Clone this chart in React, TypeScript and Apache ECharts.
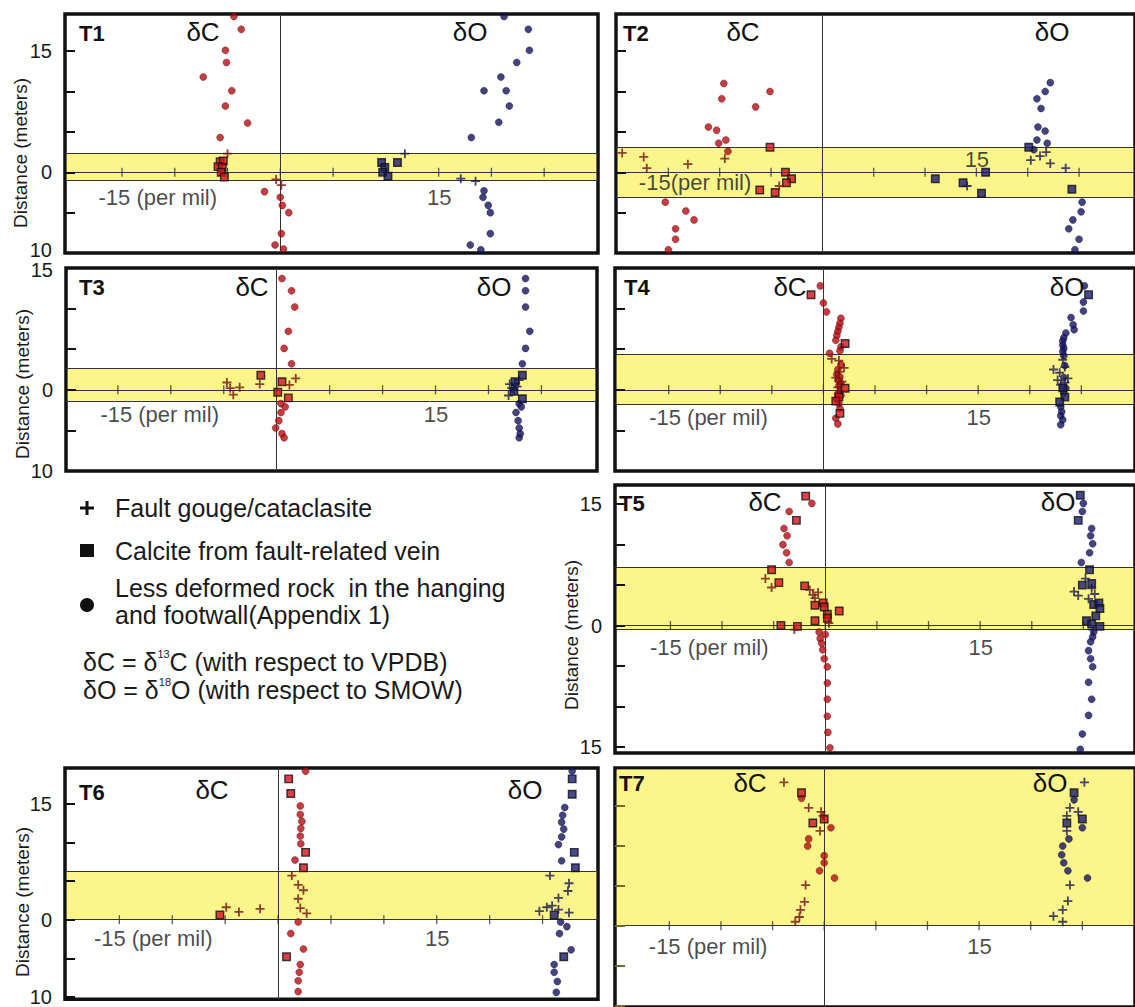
import React, { useEffect, useRef } from "react";
import * as echarts from "echarts";

// ---------- tick values ----------
const xTickValues = [-15, -10, -5, 0, 5, 10, 15, 20, 25];
const yTicksA = [15, 10, 5, 0, -5, -10];
const yTicksT3 = [10, 5, 0, -5];
const yTicksT5 = [15, 10, 5, 0, -5, -10, -15];
const yLabelsT1 = [15, 0, -9.6];
const yLabelsT3 = [14.75, 0, -10];
const yLabelsT6 = [15, 0, -10];
const yLabelsT5 = [15, 0, -15];

// ---------- bands (fault zone, metres) ----------
const t1Band = [-1.0, 2.3];
const t2Band = [-3.1, 3.1];
const t3Band = [-1.35, 2.7];
const t4Band = [-1.8, 4.4];
const t5Band = [-0.5, 7.2];
const t6Band = [0, 6.2];
const t7Band = [0, 19.8];

// ---------- T1 ----------
const t1CRock = [[-4.4, 19.3], [-3.7, 17.7], [-5.2, 15.1], [-5.1, 13.6], [-7.3, 11.8], [-4.6, 10.1], [-5.2, 8.2], [-3.1, 6.1], [-5.7, 4.3], [-1.5, -2.4], [0, -3.1], [0.2, -4.1], [0.8, -5.0], [0.1, -7.6], [-0.5, -9.0], [0.3, -9.5]];
const t1CVein = [[-5.7, 1.3], [-5.4, 1.4], [-5.9, 0.7], [-5.5, 0.6], [-5.6, 0.0], [-5.3, -0.6]];
const t1CGouge = [[-5.0, 2.3], [-0.4, -0.9], [0.1, -1.6]];
const t1ORock = [[21.2, 19.3], [23.5, 17.7], [23.6, 15.1], [22.4, 13.6], [20.9, 11.8], [19.3, 10.1], [21.4, 10.1], [21.7, 8.2], [20.7, 6.2], [18.1, 4.3], [19.3, -2.3], [19.2, -3.1], [19.7, -4.1], [19.9, -5.0], [19.9, -7.6], [18.0, -9.0], [19.0, -9.6]];
const t1OVein = [[9.6, 1.2], [11.1, 1.2], [9.9, 0.6], [9.7, 0.0], [10.2, -0.5]];
const t1OGouge = [[11.8, 2.3], [17.1, -0.8], [18.5, -1.1]];

// ---------- T2 ----------
const t2CRock = [[-9.6, 11.0], [-9.8, 9.1], [-6.5, 8.1], [-11.1, 5.6], [-10.3, 5.2], [-9.4, 4.0], [-10.1, 3.6], [-9.2, 2.6], [-5.1, 10.0], [-15.3, -3.7], [-13.3, -4.8], [-12.5, -5.9], [-14.3, -7.0], [-14.3, -8.3], [-15.0, -9.6]];
const t2CVein = [[-5.1, 3.1], [-3.6, 0.0], [-3.0, -0.8], [-3.5, -1.3], [-6.1, -2.2], [-4.6, -2.5]];
const t2CGouge = [[-19.5, 2.4], [-17.4, 1.9], [-17.1, 0.5], [-13.1, 1.0], [-9.5, 1.7], [-4.2, -1.7]];
const t2ORock = [[22.2, 11.1], [21.7, 10.0], [20.9, 9.1], [21.3, 7.9], [21.0, 5.6], [21.7, 5.1], [20.9, 4.0], [21.9, 3.6], [20.6, 2.8], [25.3, -3.7], [25.2, -4.9], [24.4, -5.9], [24.0, -7.0], [25.0, -8.3], [24.6, -9.6]];
const t2OVein = [[20.1, 3.1], [15.9, 0.0], [11.0, -0.8], [13.7, -1.3], [15.5, -2.6], [24.3, -2.1]];
const t2OGouge = [[20.3, 1.5], [21.2, 2.0], [21.8, 2.5], [22.2, 1.1], [23.7, 0.5], [14.1, -1.7]];

// ---------- T3 ----------
const t3CRock = [[0.5, 13.7], [1.4, 12.2], [1.7, 10.2], [1.1, 7.2], [0.7, 5.1], [1.4, 3.2], [0.4, -1.7], [0.8, -2.1], [0.4, -2.8], [0.2, -3.8], [-0.1, -4.7], [0.5, -5.4], [0.7, -5.9]];
const t3CVein = [[-1.5, 1.8], [0.5, 1.0], [0.1, -0.3], [1.1, -1.0]];
const t3CGouge = [[-4.7, 0.9], [-4.4, 0.2], [-3.5, 0.3], [-4.1, -0.6], [-1.6, 0.7], [1.2, 0.6], [1.8, 1.4]];
const t3ORock = [[23.5, 13.7], [23.5, 12.2], [23.5, 10.2], [23.9, 7.2], [23.5, 5.1], [23.2, 3.2], [22.9, -1.7], [23.1, -2.1], [22.6, -2.8], [22.8, -3.8], [22.9, -4.7], [23.0, -5.4], [22.9, -5.9]];
const t3OVein = [[23.2, 1.8], [22.5, 1.0], [22.4, -0.2], [23.2, -1.1]];
const t3OGouge = [[22.0, 0.7], [22.2, 0.2], [22.7, 0.4], [21.9, -0.7], [22.4, 0.0], [22.5, 0.8], [22.9, 1.2]];

// ---------- T4 ----------
const t4CRock = [[-0.3, 12.8], [0, 10.7], [0.3, 9.6], [1.7, 8.8], [1.6, 8.2], [1.5, 7.7], [1.4, 7.2], [1.3, 6.7], [1.2, 6.1], [1.7, 5.3], [1.6, 4.8], [0.6, 4.5], [1.7, 3.1], [1.4, 2.5], [1.3, 1.9], [1.6, 1.6], [1.4, 1.2], [1.7, 0.8], [1.5, 0.5], [1.6, -0.2], [1.4, -0.5], [1.7, -0.7], [1.3, -1.1], [1.5, -1.7], [1.6, -2.3], [1.2, -3.5], [1.4, -4.2]];
const t4CVein = [[-1.2, 11.7], [2.1, 5.7], [2.1, 0.2], [1.5, -0.9], [1.2, -1.4], [1.6, -2.9]];
const t4CGouge = [[0.8, 3.8], [1.5, 3.6], [2.0, 2.7], [1.5, 2.2], [1.2, 1.5], [1.8, 1.0], [1.4, 0.3]];
const t4ORock = [[25.3, 12.8], [25.2, 10.8], [25.2, 9.7], [24.0, 8.9], [24.2, 8.0], [24.3, 7.4], [23.5, 7.0], [23.3, 6.4], [23.2, 6.0], [23.2, 5.5], [23.3, 5.1], [23.2, 4.7], [23.3, 4.2], [23.4, 3.0], [23.3, 1.5], [23.5, 0.2], [23.3, -0.4], [23.0, -2.1], [23.1, -2.7], [23.0, -3.2], [23.2, -3.7], [23.0, -4.3]];
const t4OVein = [[25.7, 11.7], [23.4, -0.9], [22.9, -1.5], [23.2, 0.25]];
const t4OGouge = [[23.2, 3.7], [23.4, 2.8], [22.3, 2.5], [22.9, 2.1], [23.7, 1.4], [22.7, 1.2], [23.0, 0.6], [23.4, 0.9]];

// ---------- T5 ----------
const t5CRock = [[-1.3, 15.1], [-3.5, 14.1], [-4.0, 12.0], [-3.7, 11.1], [-4.1, 10.0], [-3.75, 9.0], [-3.5, 7.8], [-0.6, -0.8], [0, -1.1], [-0.5, -1.6], [-0.35, -2.2], [-0.25, -3.0], [-0.1, -4.1], [0.2, -5.1], [0.2, -7.1], [0.2, -9.1], [0.2, -11.2], [0.25, -13.2], [0.45, -15.1]];
const t5CVein = [[-1.9, 16.0], [-2.8, 13.0], [-5.2, 6.9], [-4.5, 5.3], [-2.0, 4.9], [-1.0, 2.5], [-0.2, 2.8], [-0.1, 2.3], [0.2, 1.4], [0.2, 0.9], [1.35, 1.8], [-1.0, 0.6], [-4.3, 0.0], [-2.7, -0.1]];
const t5CGouge = [[-5.8, 5.8], [-5.2, 4.7], [-1.5, 4.4], [-1.2, 3.8], [-0.7, 4.1], [-1.0, 3.4], [0.35, 0.3], [-3.0, -0.5]];
const t5ORock = [[25.0, 15.1], [24.9, 14.1], [25.8, 12.0], [25.7, 11.1], [25.9, 10.1], [25.6, 9.0], [24.8, 7.8], [26.0, -0.8], [25.9, -1.4], [25.7, -2.0], [25.5, -3.1], [25.7, -4.1], [25.9, -5.1], [25.5, -7.0], [25.8, -9.1], [25.5, -11.1], [24.9, -13.4], [24.7, -15.3]];
const t5OVein = [[24.7, 16.1], [24.5, 13.0], [25.6, 6.9], [24.9, 5.0], [25.8, 5.2], [26.0, 2.6], [26.5, 2.8], [26.6, 2.1], [26.2, 1.2], [25.3, 0.6], [25.8, 0.2], [26.6, -0.1]];
const t5OGouge = [[25.2, 5.8], [25.8, 4.6], [24.1, 4.2], [24.5, 3.7], [25.5, 3.3], [26.1, 3.9], [25.9, -0.5]];

// ---------- T6 ----------
const t6CRock = [[2.6, 19.2], [2.1, 14.7], [2.1, 13.6], [2.25, 12.7], [2.15, 11.8], [2.1, 10.8], [2.15, 9.8], [1.6, 7.7], [1.9, -0.3], [1.2, -1.8], [2.4, -3.8], [2.1, -5.8], [2.0, -6.8], [1.9, -7.9], [1.9, -9.3]];
const t6CVein = [[1.0, 18.2], [1.2, 16.3], [2.6, 8.7], [2.4, 6.7], [-5.5, 0.6], [0.8, -4.8]];
const t6CGouge = [[1.3, 5.7], [1.9, 4.5], [2.4, 3.8], [1.9, 2.7], [2.1, 1.5], [2.7, 0.8], [-4.9, 1.6], [-3.7, 1.0], [-1.7, 1.4]];
const t6ORock = [[27.8, 19.2], [27.1, 14.5], [26.9, 13.5], [26.8, 12.6], [27.0, 11.7], [26.8, 10.7], [26.5, 9.7], [26.8, 7.6], [26.7, -0.3], [27.3, -0.9], [26.6, -1.8], [27.7, -3.9], [26.1, -5.8], [26.1, -6.8], [26.4, -8.0], [26.3, -9.4]];
const t6OVein = [[27.8, 18.2], [27.8, 16.2], [28.0, 8.7], [28.1, 6.7], [26.1, 0.6], [27.0, -4.8]];
const t6OGouge = [[25.7, 5.7], [27.5, 4.7], [27.4, 3.7], [26.5, 2.8], [26.5, 1.3], [27.5, 0.9], [25.4, 1.6], [24.7, 1.1], [25.9, 1.8]];

// ---------- T7 ----------
const t7CRock = [[-2.2, 16.0], [0.65, 12.3], [-1.5, 10.9], [-1.6, 10.0], [0, 8.8], [0, 7.9], [-0.45, 6.9], [1.0, 6.0]];
const t7CVein = [[-2.2, 16.7], [-1.1, 12.9], [0, 13.4]];
const t7CGouge = [[-3.9, 18.0], [-1.5, 14.8], [-0.3, 14.3], [-0.1, 13.8], [-0.4, 11.9], [-1.8, 5.1], [-1.9, 3.0], [-2.3, 2.0], [-2.4, 1.1], [-2.8, 0.5]];
const t7ORock = [[24.2, 15.8], [25.0, 12.3], [23.7, 10.9], [23.1, 10.0], [23.0, 8.9], [23.2, 7.9], [23.6, 6.9], [25.5, 6.0]];
const t7OVein = [[24.2, 16.7], [23.5, 12.9], [25.0, 13.4]];
const t7OGouge = [[25.2, 18.0], [23.8, 14.8], [24.6, 14.3], [23.5, 13.8], [23.5, 11.9], [23.8, 5.1], [23.6, 3.1], [23.1, 2.0], [22.2, 1.2], [23.1, 0.5]];

// ---------- text ----------
const legendItems = [
  "Fault gouge/cataclasite",
  "Calcite from fault-related vein",
  "Less deformed rock  in the hanging",
  "and footwall(Appendix 1)",
];
const yTitle = "Distance (meters)";

// ---------- styling ----------
const FONT = '"Liberation Sans", Arial, Helvetica, sans-serif';
const YELLOW = "#fcf58a";
const RED = "#b50d14";
const RED_SQ = "#d2121a";
const RED_PLUS = "#741212";
const BLUE = "#15145f";
const BLUE_SQ = "#1c1c74";
const BLUE_PLUS = "#181850";
const PLUS = "path://M4,0H6V4H10V6H6V10H4V6H0V4H4Z";

type Pt = number[];
interface Panel {
  id: string;
  left: number; top: number; width: number; height: number;
  xMin: number; xMax: number; yMin: number; yMax: number;
  yTicks: number[]; yLabels: number[];
  band: number[];
  tickColor: string;
  noteText: string; noteDx: number; noteDy: number; fifteenDy: number;
  idPos: number[]; cPos: number[]; oPos: number[];
  sets: Pt[][];
}

const panels: Panel[] = [
  { id: "T1", left: 65, top: 14, width: 533, height: 239, xMin: -20.4, xMax: 30.1, yMin: -10, yMax: 19.6,
    yTicks: yTicksA, yLabels: yLabelsT1, band: t1Band, tickColor: "#111",
    noteText: "-15 (per mil)", noteDx: -23, noteDy: 26, fifteenDy: 26,
    idPos: [79, 33], cPos: [203, 32], oPos: [470, 32],
    sets: [t1CRock, t1CVein, t1CGouge, t1ORock, t1OVein, t1OGouge] },
  { id: "T2", left: 616, top: 14, width: 534, height: 239, xMin: -20.1, xMax: 30.45, yMin: -10, yMax: 19.6,
    yTicks: yTicksA, yLabels: [], band: t2Band, tickColor: "#111",
    noteText: "-15(per mil)", noteDx: -29, noteDy: 11, fifteenDy: -12,
    idPos: [623, 33], cPos: [743, 32], oPos: [1052, 32],
    sets: [t2CRock, t2CVein, t2CGouge, t2ORock, t2OVein, t2OGouge] },
  { id: "T3", left: 66, top: 268, width: 531, height: 203, xMin: -19.9, xMax: 30.25, yMin: -10, yMax: 15,
    yTicks: yTicksT3, yLabels: yLabelsT3, band: t3Band, tickColor: "#111",
    noteText: "-15 (per mil)", noteDx: -17, noteDy: 25, fifteenDy: 25,
    idPos: [79, 287], cPos: [252, 287], oPos: [494, 287],
    sets: [t3CRock, t3CVein, t3CGouge, t3ORock, t3OVein, t3OGouge] },
  { id: "T4", left: 615, top: 268, width: 534, height: 203, xMin: -20.2, xMax: 30.2, yMin: -10, yMax: 15,
    yTicks: yTicksT3, yLabels: [], band: t4Band, tickColor: "#111",
    noteText: "-15 (per mil)", noteDx: -19, noteDy: 28, fifteenDy: 28,
    idPos: [624, 287], cPos: [790, 287], oPos: [1067, 287],
    sets: [t4CRock, t4CVein, t4CGouge, t4ORock, t4OVein, t4OGouge] },
  { id: "T5", left: 615, top: 485, width: 534, height: 268, xMin: -20.37, xMax: 30.0, yMin: -15.75, yMax: 17.37,
    yTicks: yTicksT5, yLabels: yLabelsT5, band: t5Band, tickColor: "#111",
    noteText: "-15 (per mil)", noteDx: -20, noteDy: 22, fifteenDy: 22,
    idPos: [619, 503], cPos: [765, 502], oPos: [1058, 502],
    sets: [t5CRock, t5CVein, t5CGouge, t5ORock, t5OVein, t5OGouge] },
  { id: "T6", left: 65, top: 768, width: 533, height: 243, xMin: -20.14, xMax: 30.24, yMin: -10.3, yMax: 19.6,
    yTicks: yTicksA, yLabels: yLabelsT6, band: t6Band, tickColor: "#111",
    noteText: "-15 (per mil)", noteDx: -25, noteDy: 19, fifteenDy: 19,
    idPos: [79, 792], cPos: [212, 790], oPos: [525, 790],
    sets: [t6CRock, t6CVein, t6CGouge, t6ORock, t6OVein, t6OGouge] },
  { id: "T7", left: 615, top: 768, width: 534, height: 243, xMin: -20.26, xMax: 30.1, yMin: -10.2, yMax: 19.8,
    yTicks: yTicksA, yLabels: [], band: t7Band, tickColor: "#6f6c2c",
    noteText: "-15 (per mil)", noteDx: -20, noteDy: 21, fifteenDy: 21,
    idPos: [619, 783], cPos: [750, 783], oPos: [1050, 783],
    sets: [t7CRock, t7CVein, t7CGouge, t7ORock, t7OVein, t7OGouge] },
];

const yTitlePos = [[20, 153], [22, 384], [571, 635], [22, 902]];

function buildOption() {
  const grid: any[] = [];
  const xAxis: any[] = [];
  const yAxis: any[] = [];
  const series: any[] = [];
  const graphic: any[] = [];

  panels.forEach((p, i) => {
    grid.push({
      left: p.left, top: p.top, width: p.width, height: p.height,
      show: true, borderColor: "#111", borderWidth: 3.5, backgroundColor: "#fff",
    });
    xAxis.push({
      type: "value", gridIndex: i, min: p.xMin, max: p.xMax,
      axisLine: { show: false, onZero: false }, axisTick: { show: false }, axisLabel: { show: false }, splitLine: { show: false },
    });
    yAxis.push({
      type: "value", gridIndex: i, min: p.yMin, max: p.yMax, z: 8, position: "left",
      axisLine: { show: false, onZero: false },
      splitLine: { show: false },
      axisTick: { show: true, inside: true, length: 10, customValues: p.yTicks, lineStyle: { color: p.tickColor, width: 2 } },
      axisLabel: {
        show: p.yLabels.length > 0,
        customValues: p.yLabels.length ? p.yLabels : undefined,
        formatter: (v: number) => String(Math.round(Math.abs(v) / 5) * 5),
        margin: 13, fontSize: 20, color: "#1a1a1a", fontFamily: FONT,
      },
    });

    const inset = 0.17;
    const lines: any[] = [{ yAxis: 0 }, { xAxis: 0 }];
    p.band.forEach((b) => {
      if (b !== 0 && b < p.yMax - 0.1) lines.push({ yAxis: b });
    });
    const bandTop = Math.min(p.band[1], p.yMax - 0.2);

    series.push({
      type: "scatter", xAxisIndex: i, yAxisIndex: i, silent: true, z: 5,
      symbol: "rect", symbolSize: [1.3, 9],
      itemStyle: { color: "#333" },
      data: xTickValues.map((v) => [v, 0]),
      markArea: {
        silent: true, z: 1,
        itemStyle: { color: YELLOW, borderWidth: 0 },
        data: [[{ xAxis: p.xMin + inset, yAxis: p.band[0] }, { xAxis: p.xMax - inset, yAxis: bandTop }]],
      },
      markLine: {
        silent: true, z: 4, symbol: ["none", "none"], label: { show: false },
        lineStyle: { color: "#333", width: 1, type: "solid" },
        emphasis: { disabled: true },
        data: lines,
      },
    });

    series.push({
      type: "scatter", xAxisIndex: i, yAxisIndex: i, silent: true, z: 6,
      symbolSize: 1, itemStyle: { color: "rgba(0,0,0,0)" },
      data: [
        { value: [-15, 0], label: { show: true, formatter: p.noteText, position: [p.noteDx, p.noteDy], align: "left", verticalAlign: "middle", fontSize: 22, fontFamily: FONT, color: "#1a1a1a" } },
        { value: [15, 0], label: { show: true, formatter: "15", position: [1, p.fifteenDy], align: "center", verticalAlign: "middle", fontSize: 22, fontFamily: FONT, color: "#1a1a1a" } },
      ],
    });

    const styles = [
      { symbol: "circle", symbolSize: 7, itemStyle: { color: RED, borderColor: "#5a0505", borderWidth: 0.5 } },
      { symbol: "rect", symbolSize: 7.5, itemStyle: { color: RED_SQ, borderColor: "#111", borderWidth: 1.4 } },
      { symbol: PLUS, symbolSize: 9, itemStyle: { color: RED_PLUS } },
      { symbol: "circle", symbolSize: 7, itemStyle: { color: BLUE, borderColor: "#0a0a38", borderWidth: 0.5 } },
      { symbol: "rect", symbolSize: 7.5, itemStyle: { color: BLUE_SQ, borderColor: "#111", borderWidth: 1.4 } },
      { symbol: PLUS, symbolSize: 9, itemStyle: { color: BLUE_PLUS } },
    ];
    p.sets.forEach((d, k) => {
      series.push({
        type: "scatter", xAxisIndex: i, yAxisIndex: i, silent: true, z: 10,
        ...styles[k],
        data: d,
      });
    });

    graphic.push({
      type: "text", x: p.idPos[0], y: p.idPos[1], z: 100,
      style: { text: p.id, fontSize: 22, fontWeight: "bold", fontFamily: FONT, fill: "#111", align: "left", verticalAlign: "middle" },
    });
    graphic.push({
      type: "text", x: p.cPos[0], y: p.cPos[1], z: 100,
      style: { text: "δC", fontSize: 26, fontFamily: FONT, fill: "#111", align: "center", verticalAlign: "middle" },
    });
    graphic.push({
      type: "text", x: p.oPos[0], y: p.oPos[1], z: 100,
      style: { text: "δO", fontSize: 26, fontFamily: FONT, fill: "#111", align: "center", verticalAlign: "middle" },
    });
  });

  yTitlePos.forEach((pos) => {
    graphic.push({
      type: "text", x: pos[0], y: pos[1], rotation: Math.PI / 2, z: 100,
      style: { text: yTitle, fontSize: 19, fontFamily: FONT, fill: "#1a1a1a", align: "center", verticalAlign: "middle" },
    });
  });

  // legend markers
  graphic.push({ type: "rect", shape: { x: 80, y: 506.5, width: 14, height: 3 }, style: { fill: "#111" }, z: 100 });
  graphic.push({ type: "rect", shape: { x: 85.5, y: 501, width: 3, height: 14 }, style: { fill: "#111" }, z: 100 });
  graphic.push({ type: "rect", shape: { x: 80, y: 544, width: 14, height: 13 }, style: { fill: "#111" }, z: 100 });
  graphic.push({ type: "circle", shape: { cx: 87, cy: 605, r: 7 }, style: { fill: "#111" }, z: 100 });
  const legY = [508, 551, 588, 615];
  legendItems.forEach((t, k) => {
    graphic.push({
      type: "text", x: 115, y: legY[k], z: 100,
      style: { text: t, fontSize: 25, fontFamily: FONT, fill: "#1a1a1a", align: "left", verticalAlign: "middle" },
    });
  });
  const rich = {
    a: { fontSize: 25, fontFamily: FONT, fill: "#1a1a1a", lineHeight: 28 },
    b: { fontSize: 11, fontFamily: FONT, fill: "#1a1a1a", lineHeight: 19, verticalAlign: "top" },
  };
  graphic.push({
    type: "text", x: 83, y: 662, z: 100,
    style: { text: "{a|δC = δ}{b|13}{a|C (with respect to VPDB)}", rich, align: "left", verticalAlign: "middle" },
  });
  graphic.push({
    type: "text", x: 83, y: 690, z: 100,
    style: { text: "{a|δO = δ}{b|18}{a|O (with respect to SMOW)}", rich, align: "left", verticalAlign: "middle" },
  });

  return { animation: false, backgroundColor: "#fff", grid, xAxis, yAxis, series, graphic };
}

export default function App() {
  const ref = useRef<HTMLDivElement>(null);
  useEffect(() => {
    document.body.style.margin = "0";
    const chart = echarts.init(ref.current!, undefined, { renderer: "svg" });
    chart.setOption(buildOption() as any);
    return () => chart.dispose();
  }, []);
  return <div ref={ref} style={{ width: 1135, height: 1007 }} />;
}
